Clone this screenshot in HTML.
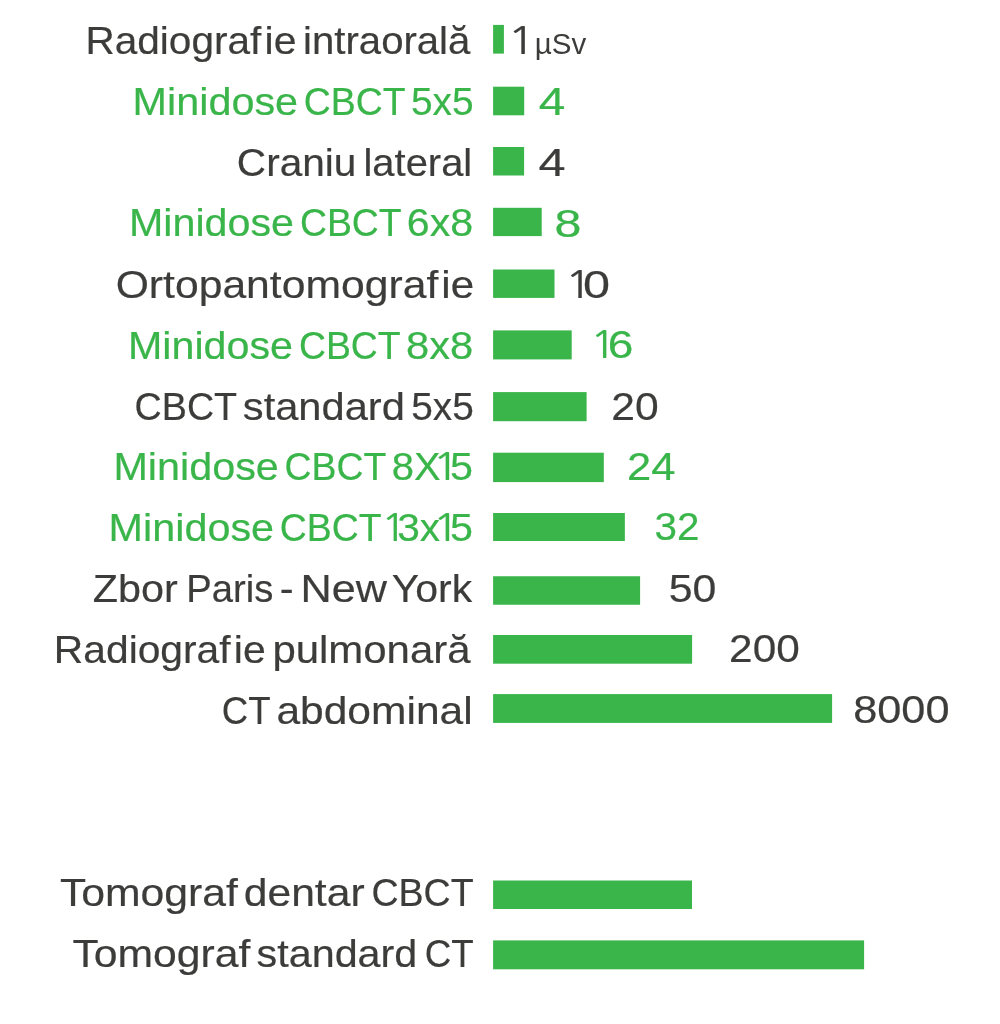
<!DOCTYPE html>
<html lang="ro">
<head>
<meta charset="utf-8">
<title>Doze de radiatie</title>
<style>
html,body{margin:0;padding:0;background:#fff}
body{width:1000px;height:1024px;overflow:hidden}
svg{display:block}
text{font-family:"Liberation Sans",sans-serif;font-size:39.5px;stroke-width:0.2px;stroke-linejoin:round}
.n1{font-family:"NanumGothic","Liberation Sans",sans-serif;font-size:36.8px}
</style>
</head>
<body>
<svg width="1000" height="1024" viewBox="0 0 1000 1024">
<rect width="1000" height="1024" fill="#ffffff"/>
<g fill="#39b54a">
<rect x="493.1" y="24.90" width="10.80" height="28.70"/>
<rect x="493.1" y="86.70" width="31.10" height="28.60"/>
<rect x="493.1" y="147.00" width="31.00" height="28.50"/>
<rect x="493.1" y="207.80" width="48.60" height="28.30"/>
<rect x="493.1" y="269.50" width="61.40" height="28.40"/>
<rect x="493.1" y="330.40" width="78.60" height="29.00"/>
<rect x="493.1" y="392.10" width="93.50" height="29.10"/>
<rect x="493.1" y="452.70" width="110.70" height="29.40"/>
<rect x="493.1" y="513.00" width="131.75" height="28.00"/>
<rect x="493.1" y="576.25" width="147.00" height="28.50"/>
<rect x="493.1" y="635.00" width="199.00" height="28.70"/>
<rect x="493.1" y="694.10" width="339.00" height="28.80"/>
<rect x="493.1" y="880.50" width="198.90" height="28.50"/>
<rect x="493.1" y="940.40" width="371.00" height="28.90"/>
</g>
<text y="54.40" fill="#3c3c3b" stroke="#3c3c3b"><tspan x="85.42" textLength="175.87" lengthAdjust="spacingAndGlyphs">Radiograf</tspan><tspan x="264.50" textLength="31.99" lengthAdjust="spacingAndGlyphs">ie</tspan> <tspan x="303.09" textLength="167.29" lengthAdjust="spacingAndGlyphs">intraorală</tspan></text>
<text y="115.15" fill="#39b54a" stroke="#39b54a"><tspan x="132.58" textLength="165.51" lengthAdjust="spacingAndGlyphs">Minidose</tspan> <tspan x="303.71" textLength="101.23" lengthAdjust="spacingAndGlyphs">CBCT</tspan> <tspan x="410.88" textLength="62.74" lengthAdjust="spacingAndGlyphs">5x5</tspan></text>
<text y="175.80" fill="#3c3c3b" stroke="#3c3c3b"><tspan x="236.86" textLength="119.54" lengthAdjust="spacingAndGlyphs">Craniu</tspan> <tspan x="363.51" textLength="108.75" lengthAdjust="spacingAndGlyphs">lateral</tspan></text>
<text y="236.45" fill="#39b54a" stroke="#39b54a"><tspan x="128.98" textLength="165.05" lengthAdjust="spacingAndGlyphs">Minidose</tspan> <tspan x="299.93" textLength="101.10" lengthAdjust="spacingAndGlyphs">CBCT</tspan> <tspan x="406.85" textLength="66.34" lengthAdjust="spacingAndGlyphs">6x8</tspan></text>
<text y="297.80" fill="#3c3c3b" stroke="#3c3c3b"><tspan x="115.68" textLength="322.57" lengthAdjust="spacingAndGlyphs">Ortopantomograf</tspan><tspan x="441.31" textLength="32.84" lengthAdjust="spacingAndGlyphs">ie</tspan></text>
<text y="358.70" fill="#39b54a" stroke="#39b54a"><tspan x="127.98" textLength="165.05" lengthAdjust="spacingAndGlyphs">Minidose</tspan> <tspan x="298.93" textLength="101.10" lengthAdjust="spacingAndGlyphs">CBCT</tspan> <tspan x="406.09" textLength="67.14" lengthAdjust="spacingAndGlyphs">8x8</tspan></text>
<text y="419.50" fill="#3c3c3b" stroke="#3c3c3b"><tspan x="134.58" textLength="101.85" lengthAdjust="spacingAndGlyphs">CBCT</tspan> <tspan x="242.83" textLength="162.01" lengthAdjust="spacingAndGlyphs">standard</tspan> <tspan x="411.16" textLength="62.58" lengthAdjust="spacingAndGlyphs">5x5</tspan></text>
<text y="480.20" fill="#39b54a" stroke="#39b54a"><tspan x="113.40" textLength="165.44" lengthAdjust="spacingAndGlyphs">Minidose</tspan> <tspan x="284.56" textLength="101.07" lengthAdjust="spacingAndGlyphs">CBCT</tspan> <tspan x="391.84" textLength="48.86" lengthAdjust="spacingAndGlyphs">8X</tspan><tspan x="432.28" class="n1" textLength="27.57" lengthAdjust="spacingAndGlyphs">1</tspan><tspan x="450.05" textLength="22.95" lengthAdjust="spacingAndGlyphs">5</tspan></text>
<text y="541.40" fill="#39b54a" stroke="#39b54a"><tspan x="108.58" textLength="165.51" lengthAdjust="spacingAndGlyphs">Minidose</tspan> <tspan x="279.71" textLength="101.23" lengthAdjust="spacingAndGlyphs">CBCT</tspan> <tspan x="380.79" class="n1" textLength="26.43" lengthAdjust="spacingAndGlyphs">1</tspan><tspan x="397.29" textLength="42.89" lengthAdjust="spacingAndGlyphs">3x</tspan><tspan x="432.28" class="n1" textLength="27.57" lengthAdjust="spacingAndGlyphs">1</tspan><tspan x="450.05" textLength="22.95" lengthAdjust="spacingAndGlyphs">5</tspan></text>
<text y="602.05" fill="#3c3c3b" stroke="#3c3c3b"><tspan x="92.86" textLength="84.98" lengthAdjust="spacingAndGlyphs">Zbor</tspan> <tspan x="186.23" textLength="87.03" lengthAdjust="spacingAndGlyphs">Paris</tspan> <tspan x="279.86" textLength="13.84" lengthAdjust="spacingAndGlyphs">-</tspan> <tspan x="300.50" textLength="86.43" lengthAdjust="spacingAndGlyphs">New</tspan> <tspan x="391.67" textLength="80.48" lengthAdjust="spacingAndGlyphs">York</tspan></text>
<text y="662.90" fill="#3c3c3b" stroke="#3c3c3b"><tspan x="53.85" textLength="176.77" lengthAdjust="spacingAndGlyphs">Radiograf</tspan><tspan x="233.89" textLength="31.93" lengthAdjust="spacingAndGlyphs">ie</tspan> <tspan x="272.41" textLength="198.08" lengthAdjust="spacingAndGlyphs">pulmonară</tspan></text>
<text y="723.60" fill="#3c3c3b" stroke="#3c3c3b"><tspan x="221.78" textLength="48.15" lengthAdjust="spacingAndGlyphs">CT</tspan> <tspan x="276.40" textLength="196.29" lengthAdjust="spacingAndGlyphs">abdominal</tspan></text>
<text y="906.40" fill="#3c3c3b" stroke="#3c3c3b"><tspan x="59.94" textLength="178.01" lengthAdjust="spacingAndGlyphs">Tomograf</tspan> <tspan x="243.76" textLength="120.86" lengthAdjust="spacingAndGlyphs">dentar</tspan> <tspan x="371.45" textLength="102.23" lengthAdjust="spacingAndGlyphs">CBCT</tspan></text>
<text y="967.45" fill="#3c3c3b" stroke="#3c3c3b"><tspan x="72.40" textLength="178.07" lengthAdjust="spacingAndGlyphs">Tomograf</tspan> <tspan x="256.60" textLength="160.72" lengthAdjust="spacingAndGlyphs">standard</tspan> <tspan x="424.69" textLength="49.00" lengthAdjust="spacingAndGlyphs">CT</tspan></text>
<text y="53.70" fill="#3c3c3b" stroke="#3c3c3b"><tspan x="506.95" class="n1" textLength="29.22" lengthAdjust="spacingAndGlyphs">1</tspan> <tspan x="534.69" font-size="29" stroke-width="0" textLength="51.49" lengthAdjust="spacingAndGlyphs">µSv</tspan></text>
<text y="115.00" fill="#39b54a" stroke="#39b54a"><tspan x="538.87" textLength="26.59" lengthAdjust="spacingAndGlyphs">4</tspan></text>
<text y="175.60" fill="#3c3c3b" stroke="#3c3c3b"><tspan x="538.60" textLength="27.06" lengthAdjust="spacingAndGlyphs">4</tspan></text>
<text y="236.60" fill="#39b54a" stroke="#39b54a"><tspan x="554.64" textLength="26.85" lengthAdjust="spacingAndGlyphs">8</tspan></text>
<text y="297.60" fill="#3c3c3b" stroke="#3c3c3b"><tspan x="564.63" class="n1" textLength="28.22" lengthAdjust="spacingAndGlyphs">1</tspan><tspan x="582.93" textLength="27.00" lengthAdjust="spacingAndGlyphs">0</tspan></text>
<text y="358.40" fill="#39b54a" stroke="#39b54a"><tspan x="589.67" class="n1" textLength="26.96" lengthAdjust="spacingAndGlyphs">1</tspan><tspan x="607.67" textLength="25.65" lengthAdjust="spacingAndGlyphs">6</tspan></text>
<text y="419.50" fill="#3c3c3b" stroke="#3c3c3b"><tspan x="611.31" textLength="47.42" lengthAdjust="spacingAndGlyphs">20</tspan></text>
<text y="480.10" fill="#39b54a" stroke="#39b54a"><tspan x="626.99" textLength="48.46" lengthAdjust="spacingAndGlyphs">24</tspan></text>
<text y="540.40" fill="#39b54a" stroke="#39b54a"><tspan x="654.47" textLength="44.87" lengthAdjust="spacingAndGlyphs">32</tspan></text>
<text y="601.60" fill="#3c3c3b" stroke="#3c3c3b"><tspan x="668.76" textLength="47.61" lengthAdjust="spacingAndGlyphs">50</tspan></text>
<text y="662.40" fill="#3c3c3b" stroke="#3c3c3b"><tspan x="729.12" textLength="70.58" lengthAdjust="spacingAndGlyphs">200</tspan></text>
<text y="723.20" fill="#3c3c3b" stroke="#3c3c3b"><tspan x="853.23" textLength="96.27" lengthAdjust="spacingAndGlyphs">8000</tspan></text>
</svg>
</body>
</html>
